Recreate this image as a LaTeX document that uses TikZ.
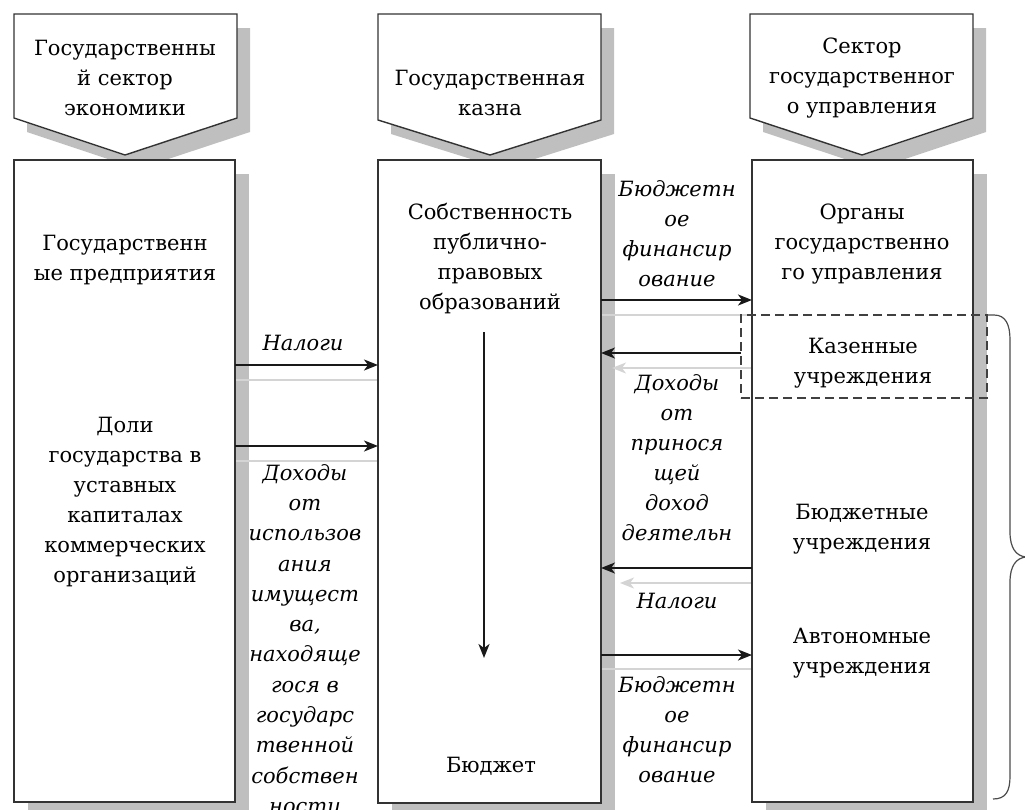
\documentclass[tikz,border=0pt]{standalone}
\usepackage{fontspec}
\setmainfont{DejaVu Serif}
\usetikzlibrary{arrows.meta}
\begin{document}
\begin{tikzpicture}[x=1pt,y=-1pt,
  bx/.style={draw=black!80, line width=1.4pt, fill=white, inner sep=0pt, outer sep=0pt},
  hd/.style={draw=black!80, line width=1.4pt, fill=white, line join=miter},
  shd/.style={fill=black!25},
  ash/.style={draw=black!17, line width=1.5pt},
  ashh/.style={ash, -{Stealth[length=14pt,width=11pt,inset=4pt]}},
  arr/.style={draw=black!90, line width=1.8pt, -{Stealth[length=14pt,width=11pt,inset=4pt]}},
  txt/.style={font=\fontsize{21}{30}\selectfont, align=center, inner sep=0pt},
  lbl/.style={font=\fontsize{21}{30}\selectfont\itshape, align=center, inner sep=0pt},
  dbox/.style={draw=black!75, line width=1.4pt, dash pattern=on 9pt off 5pt, inner sep=0pt, outer sep=0pt},
  brc/.style={draw=black!70, line width=1.2pt}
]
\useasboundingbox (0,0) rectangle (1025,809);

% header and box shadows
\fill[shd] (27,28) -- (250,28) -- (250,132) -- (138,169) -- (27,132) -- cycle;
\fill[shd] (391,28) -- (614,28) -- (614,134) -- (503,169) -- (391,134) -- cycle;
\fill[shd] (763,28) -- (986,28) -- (986,132) -- (875,169) -- (763,132) -- cycle;
\fill[shd] (28,174) rectangle (249,816);
\fill[shd] (392,174) rectangle (615,817);
\fill[shd] (766,174) rectangle (987,816);

% boxes
\node[bx, anchor=north west, minimum width=221pt, minimum height=642pt] (lbox) at (14,160) {};
\node[bx, anchor=north west, minimum width=223pt, minimum height=643pt] (mbox) at (378,160) {};
\node[bx, anchor=north west, minimum width=221pt, minimum height=642pt] (rbox) at (752,160) {};

% row coordinates
\coordinate (y1) at (0,365);  \coordinate (y1s) at (0,380);
\coordinate (y2) at (0,446);  \coordinate (y2s) at (0,461);
\coordinate (y3) at (0,300);  \coordinate (y3s) at (0,315);
\coordinate (y4) at (0,353);  \coordinate (y4s) at (0,368);
\coordinate (y5) at (0,568);  \coordinate (y5s) at (0,583);
\coordinate (y6) at (0,655);  \coordinate (y6s) at (0,669);
\coordinate (s4tip) at (612,368);
\coordinate (s5tip) at (620,583);

% arrow shadows
\draw[ash] (lbox.east |- y1s) -- (mbox.west |- y1s);
\draw[ash] (lbox.east |- y2s) -- (mbox.west |- y2s);
\draw[ash] (mbox.east |- y3s) -- (rbox.west |- y3s);
\draw[ashh] (rbox.west |- y4s) -- (s4tip);
\draw[ashh] (rbox.west |- y5s) -- (s5tip);
\draw[ash] (mbox.east |- y6s) -- (rbox.west |- y6s);

% redraw box borders over shadows
\draw[black!80, line width=1.4pt] (lbox.north west) rectangle (lbox.south east);
\draw[black!80, line width=1.4pt] (mbox.north west) rectangle (mbox.south east);
\draw[black!80, line width=1.4pt] (rbox.north west) rectangle (rbox.south east);

% headers
\draw[hd] (14,14) -- (237,14) -- (237,118) -- (125,155) -- (14,118) -- cycle;
\draw[hd] (378,14) -- (601,14) -- (601,120) -- (490,155) -- (378,120) -- cycle;
\draw[hd] (750,14) -- (973,14) -- (973,118) -- (862,155) -- (750,118) -- cycle;
\node[txt] (h1) at (125,78) {Государственны\\й сектор\\экономики};
\node[txt] (h2) at (490,93) {Государственная\\казна};
\node[txt] (h3) at (862,78) {Сектор\\государственног\\о управления};

% box texts
\node[txt] (gp) at (125,260) {Государственн\\ые предприятия};
\node[txt] (dg) at (125,502) {Доли\\государства в\\уставных\\капиталах\\коммерческих\\организаций};
\node[txt] (sp) at (490,259) {Собственность\\публично-\\правовых\\образований};
\node[txt] (bd) at (491,766) {Бюджет};
\node[txt] (og) at (862,244) {Органы\\государственно\\го управления};
\node[txt] (ku) at (863,363) {Казенные\\учреждения};
\node[txt] (bu) at (862,529) {Бюджетные\\учреждения};
\node[txt] (au) at (862,653) {Автономные\\учреждения};

% dashed box
\node[dbox, anchor=north west, minimum width=246pt, minimum height=83pt] (kaz) at (741,315) {};

% vertical arrow
\coordinate (vtop) at (484,332);
\coordinate (vbot) at (484,658);
\draw[arr] (vtop) -- (vbot);

% arrows
\draw[arr] (lbox.east |- y1) -- (mbox.west |- y1);
\draw[arr] (lbox.east |- y2) -- (mbox.west |- y2);
\draw[arr] (mbox.east |- y3) -- (rbox.west |- y3);
\draw[arr] (kaz.west |- y4) -- (mbox.east |- y4);
\draw[arr] (rbox.west |- y5) -- (mbox.east |- y5);
\draw[arr] (mbox.east |- y6) -- (rbox.west |- y6);

% labels
\node[lbl] (l1) at (303,343) {Налоги};
\node[lbl, font=\fontsize{21}{30.3}\selectfont\itshape] (l2) at (305,639) {Доходы\\от\\использов\\ания\\имущест\\ва,\\находяще\\гося в\\государс\\твенной\\собствен\\ности};
\node[lbl] (l3) at (677,234) {Бюджетн\\ое\\финансир\\ование};
\node[lbl] (l4) at (677,458) {Доходы\\от\\принося\\щей\\доход\\деятельн};
\node[lbl] (l5) at (677,601) {Налоги};
\node[lbl] (l6) at (677,730) {Бюджетн\\ое\\финансир\\ование};

% brace
\draw[brc] (988,315) -- (994,315) .. controls (1006,315) and (1010,325) .. (1010,340)
  -- (1010,532) .. controls (1010,548) and (1016,556) .. (1026,557)
  .. controls (1016,558) and (1010,566) .. (1010,582)
  -- (1010,776) .. controls (1010,791) and (1006,799) .. (993,799);
\end{tikzpicture}
\end{document}
